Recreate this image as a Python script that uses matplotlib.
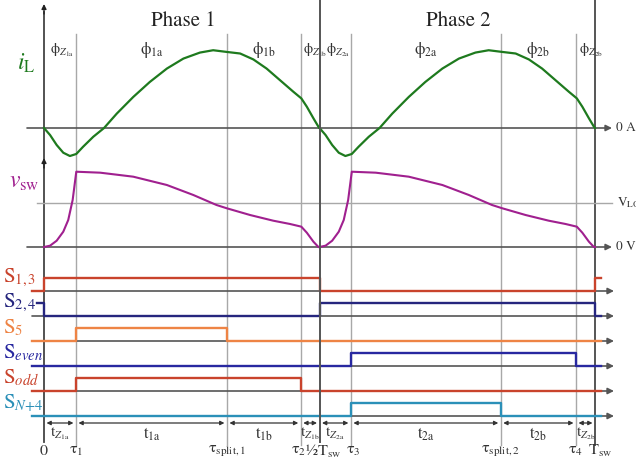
"""
Timing diagram: inductor current, switch-node voltage and gate signals
over one switching period (two phases).
"""
import numpy as np
import matplotlib.pyplot as plt

plt.rcParams['font.family'] = ['STIXGeneral', 'DejaVu Sans']
plt.rcParams['mathtext.fontset'] = 'stix'

# switching instants, fraction of T_sw
tau1, tau_split1, tau2 = 0.058, 0.332, 0.466
tau3, tau_split2, tau4 = 0.557, 0.829, 0.9655
half, t_sw = 0.5, 1.0

tick_times = [0.0, tau1, tau_split1, tau2, half, tau3, tau_split2, tau4, t_sw]
tick_labels = ['0', 'τ$_1$', r'τ$_{\mathrm{split,1}}$', 'τ$_2$', r'½T$_{\mathrm{sw}}$',
               'τ$_3$', r'τ$_{\mathrm{split,2}}$', 'τ$_4$', r'T$_{\mathrm{sw}}$']
interval_labels = [r'$\mathrm{t}_{Z_{1\mathrm{a}}}$', r'$\mathrm{t}_{1\mathrm{a}}$',
                   r'$\mathrm{t}_{1\mathrm{b}}$', r'$\mathrm{t}_{Z_{1\mathrm{b}}}$',
                   r'$\mathrm{t}_{Z_{2\mathrm{a}}}$', r'$\mathrm{t}_{2\mathrm{a}}$',
                   r'$\mathrm{t}_{2\mathrm{b}}$', r'$\mathrm{t}_{Z_{2\mathrm{b}}}$']
state_labels = ['ϕ$_{Z_{1\\mathrm{a}}}$', 'ϕ$_{1\\mathrm{a}}$', 'ϕ$_{1\\mathrm{b}}$', 'ϕ$_{Z_{1\\mathrm{b}}}$',
                'ϕ$_{Z_{2\\mathrm{a}}}$', 'ϕ$_{2\\mathrm{a}}$', 'ϕ$_{2\\mathrm{b}}$', 'ϕ$_{Z_{2\\mathrm{b}}}$']

# inductor current over one half period (normalised to its peak)
il_t = [0.0, 0.011, 0.023, 0.035, 0.047, 0.0586, 0.071, 0.0895, 0.109, 0.132,
        0.162, 0.192, 0.223, 0.253, 0.283, 0.307, 0.332, 0.356, 0.380, 0.404,
        0.428, 0.4525, 0.467, 0.477, 0.489, 0.498, 0.5]
il_val = [0.0, -0.09, -0.218, -0.317, -0.359, -0.333, -0.24, -0.112, 0.0, 0.184,
          0.398, 0.59, 0.762, 0.89, 0.967, 0.997, 0.975, 0.955, 0.879, 0.762,
          0.615, 0.465, 0.38, 0.273, 0.124, 0.017, 0.0]

# switch-node voltage over one half period (normalised to V_LO)
vsw_t = [0.0, 0.011, 0.023, 0.035, 0.044, 0.052, 0.0586, 0.102, 0.162, 0.223,
         0.271, 0.313, 0.332, 0.374, 0.416, 0.4465, 0.467, 0.477, 0.489, 0.498, 0.5]
vsw_val = [0.0, 0.03, 0.143, 0.348, 0.614, 1.068, 1.711, 1.689, 1.598, 1.409,
           1.182, 0.955, 0.879, 0.727, 0.598, 0.523, 0.462, 0.325, 0.12, 0.0, 0.0]

# gate signals: edge times and the state held after each edge
sig_names = ['S$_{1,3}$', 'S$_{2,4}$', 'S$_5$', 'S$_{even}$', 'S$_{odd}$', r'S$_{N\mathrm{+4}}$']
sig_colors = ['#c9432c', '#26267e', '#ee8445', '#2828a0', '#c9432c', '#2b90b8']
sig_t = [[-0.022, 0.0, half, t_sw, 1.011],
         [-0.013, 0.0, half, t_sw, 1.011],
         [-0.022, tau1, tau_split1, 1.011],
         [-0.022, tau3, tau4, 1.011],
         [-0.022, tau1, tau2, 1.011],
         [-0.022, tau3, tau_split2, 1.011]]
sig_state = [[0, 1, 0, 1, 1],
             [1, 0, 1, 0, 0],
             [0, 1, 0, 0],
             [0, 1, 0, 0],
             [0, 1, 0, 0],
             [0, 1, 0, 0]]

# layout (pixel rows of the 636x459 canvas, x in units of T_sw)
W, H = 636, 459
X0, SPAN = 44, 551
IL_ZERO, IL_SCALE = 128, 78
V_ZERO, V_SCALE = 247, 44
SIG_BASE = [291, 316, 341, 366, 391, 416]
SIG_HIGH = 13
GRAY = '#a8a8a8'
DARK = '#555555'
TEXT = '#333333'


def tx(px):
    return (px - X0) / SPAN


def arrow(ax, x0, y0, x1, y1, color=DARK, lw=1.2, style='-|>', ms=9):
    ax.annotate('', xy=(x1, y1), xytext=(x0, y0),
                arrowprops=dict(arrowstyle=style, color=color, lw=lw,
                                mutation_scale=ms, shrinkA=0, shrinkB=0))


def main():
    fig = plt.figure(figsize=(W / 100, H / 100), dpi=100)
    ax = fig.add_axes([0, 0, 1, 1])
    ax.set_xlim(tx(0), tx(W))
    ax.set_ylim(H, 0)
    ax.axis('off')

    # vertical time markers
    for t in [tau1, tau_split1, tau2, tau3, tau_split2, tau4]:
        ax.plot([t, t], [34, 445], color=GRAY, lw=1.0, zorder=1)
    ax.plot([half, half], [0, 442], color=DARK, lw=1.4, zorder=4)
    ax.plot([t_sw, t_sw], [0, 445], color=DARK, lw=1.4, zorder=1)
    ax.plot([0, 0], [442, 12], color='#444444', lw=1.3, zorder=1)
    arrow(ax, 0, 14, 0, 4, color='#222222', lw=1.0, ms=7)
    arrow(ax, 0, 168, 0, 158, color='#222222', lw=1.0, ms=7)

    # iL lane
    arrow(ax, tx(27), IL_ZERO, tx(612), IL_ZERO, color=DARK, lw=1.2)
    ax.text(tx(616), IL_ZERO, '0 A', fontsize=9.5, color=TEXT, va='center', ha='left')
    il_t_arr, il_arr = np.array(il_t), np.array(il_val)
    for shift in (0.0, half):
        ax.plot(il_t_arr + shift, IL_ZERO - IL_SCALE * il_arr, color='#1e7a1e', lw=1.6, zorder=3)
    ax.text(tx(26), 63, r'$i_{\mathrm{L}}$', fontsize=17, color='#1e7a1e', ha='center', va='center')

    # vsw lane
    ax.plot([tx(37), tx(612)], [V_ZERO - V_SCALE] * 2, color=GRAY, lw=1.0, zorder=1)
    ax.text(tx(617), V_ZERO - V_SCALE, r'V$_{\mathrm{LO}}$', fontsize=9.5, color=TEXT, va='center', ha='left')
    arrow(ax, tx(27), V_ZERO, tx(612), V_ZERO, color=DARK, lw=1.2)
    ax.text(tx(616), V_ZERO, '0 V', fontsize=9.5, color=TEXT, va='center', ha='left')
    v_t_arr, v_arr = np.array(vsw_t), np.array(vsw_val)
    for shift in (0.0, half):
        ax.plot(v_t_arr + shift, V_ZERO - V_SCALE * v_arr, color='#a0208f', lw=1.5, zorder=3)
    ax.text(tx(24), 182, r'$v_{\mathrm{sw}}$', fontsize=17, color='#a0208f', ha='center', va='center')

    # gate signals
    for name, col, ts, st, base in zip(sig_names, sig_colors, sig_t, sig_state, SIG_BASE):
        arrow(ax, tx(32), base, tx(614), base, color=DARK, lw=1.2)
        ys = [base - SIG_HIGH * s for s in st]
        ax.step(ts, ys, where='post', color=col, lw=1.7, zorder=3)
        ax.text(tx(3), base - SIG_HIGH, name, fontsize=15, color=col, ha='left', va='center')

    # phase titles and state labels
    ax.text(tx(183), 21, 'Phase 1', fontsize=15, color='#222222', ha='center', va='center')
    ax.text(tx(458), 21, 'Phase 2', fontsize=15, color='#222222', ha='center', va='center')
    state_x = [tx(50), None, None, tx(303), tx(326), None, None, tx(579)]
    for i, lab in enumerate(state_labels):
        if state_x[i] is None:
            x, ha, fs = (tick_times[i] + tick_times[i + 1]) / 2, 'center', 12
        else:
            x, ha, fs = state_x[i], 'left', 10.5
        ax.text(x, 50, lab, fontsize=fs, color=TEXT, ha=ha, va='center', zorder=2)

    # interval arrows and labels
    gap = 2.5 / SPAN
    for i, lab in enumerate(interval_labels):
        a, b = tick_times[i], tick_times[i + 1]
        arrow(ax, a + gap, 423, b - gap, 423, color='#333333', lw=0.9, style='<|-|>', ms=6)
        fs = 11 if 'Z' in lab else 12
        ax.text((a + b) / 2, 434, lab, fontsize=fs, color=TEXT, ha='center', va='center')

    # instant labels
    tick_dx = [0, 0, 0, -2, 4, 2, 0, 0, 5]
    for t, lab, dx in zip(tick_times, tick_labels, tick_dx):
        ax.text(t + dx / SPAN, 451, lab, fontsize=11.5, color=TEXT, ha='center', va='center')

    fig.savefig('out.png', dpi=100)
    plt.close(fig)


if __name__ == '__main__':
    main()
